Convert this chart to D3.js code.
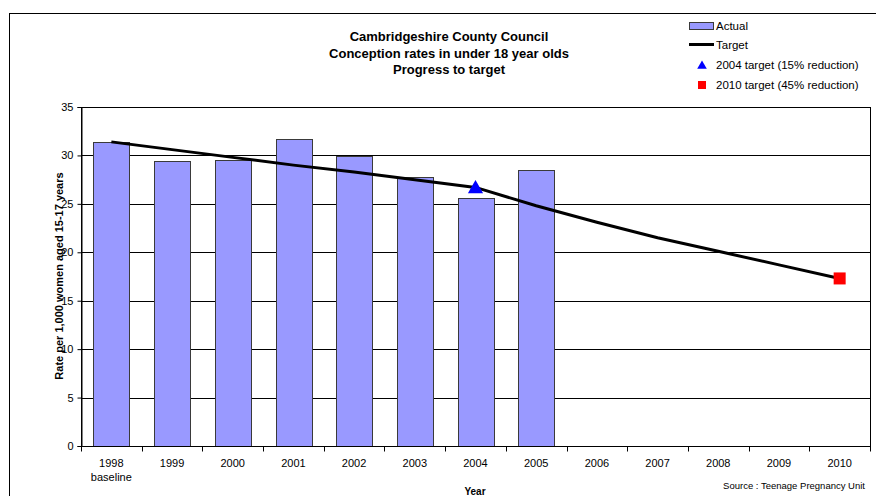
<!DOCTYPE html>
<html><head><meta charset="utf-8">
<script src="https://cdn.jsdelivr.net/npm/d3@7"></script>
<style>body{margin:0;background:#fff}svg{display:block;font-family:Arial,"Liberation Sans",sans-serif}</style>
</head><body><svg id="c" width="876" height="496"></svg>
<script>
const years = ["1998","1999","2000","2001","2002","2003","2004","2005","2006","2007","2008","2009","2010"];
const actual = [31.4, 29.4, 29.5, 31.7, 29.9, 27.8, 25.6, 28.5];
const target = [31.4, 30.6, 29.8, 29.0, 28.3, 27.5, 26.7, 24.8, 23.1, 21.5, 20.1, 18.7, 17.3];
const target2004 = {year: "2004", value: 26.7};
const target2010 = {year: "2010", value: 17.3};
const yTicks = [0, 5, 10, 15, 20, 25, 30, 35];
const titleLines = ["Cambridgeshire County Council", "Conception rates in under 18 year olds", "Progress to target"];

const svg = d3.select("#c");
const m = {l: 81, r: 870, t: 107, b: 446};
const x = d3.scaleBand().domain(years).range([m.l, m.r]).paddingInner(0.41).paddingOuter(0.205);
const xb = d3.scaleBand().domain(years).range([m.l, m.r]);
const y = d3.scaleLinear().domain([0, 35]).range([m.b, m.t]);

// outer border
svg.append("rect").attr("x", 9.5).attr("y", 13.5).attr("width", 880).attr("height", 500)
  .attr("fill", "none").attr("stroke", "#000").attr("stroke-width", 1);

// title
svg.append("g").selectAll("text").data(titleLines).join("text")
  .attr("x", 449).attr("y", (d, i) => 41 + i * 16.5).attr("text-anchor", "middle")
  .attr("font-weight", "bold").attr("font-size", 13).text(d => d);

// gridlines
svg.append("g").selectAll("line").data(yTicks.filter(d => d > 0 && d < 35)).join("line")
  .attr("x1", m.l).attr("x2", m.r).attr("y1", d => Math.round(y(d)) + 0.5).attr("y2", d => Math.round(y(d)) + 0.5)
  .attr("stroke", "#000").attr("stroke-width", 1);

// plot border
svg.append("rect").attr("x", m.l + 0.5).attr("y", m.t + 0.5).attr("width", m.r - m.l).attr("height", m.b - m.t)
  .attr("fill", "none").attr("stroke", "#000");

// bars
svg.append("g").selectAll("rect").data(actual).join("rect")
  .attr("x", (d, i) => Math.round(x(years[i])) + 0.5).attr("width", Math.round(x.bandwidth()))
  .attr("y", d => Math.round(y(d)) + 0.5).attr("height", d => m.b - Math.round(y(d)))
  .attr("fill", "#9999FF").attr("stroke", "#3a3a3a").attr("stroke-width", 1);

// y axis
const ya = svg.append("g").attr("transform", `translate(${m.l + 0.5},0)`)
  .call(d3.axisLeft(y).tickValues(yTicks).tickSize(4).tickPadding(4));
ya.select(".domain").attr("stroke", "#000");
ya.selectAll("text").attr("font-size", 11).attr("font-family", "Arial, 'Liberation Sans', sans-serif").attr("fill", "#000");
ya.selectAll(".tick line").attr("stroke", "#000");

// x axis ticks at band boundaries
const xa = svg.append("g").attr("transform", `translate(0,${m.b + 0.5})`);
xa.append("line").attr("x1", m.l).attr("x2", m.r + 1).attr("stroke", "#000");
xa.selectAll("line.t").data(years.concat(["end"])).join("line").attr("class", "t")
  .attr("x1", (d, i) => Math.round(m.l + i * xb.step()) + 0.5).attr("x2", (d, i) => Math.round(m.l + i * xb.step()) + 0.5)
  .attr("y1", 0).attr("y2", 5).attr("stroke", "#000");
xa.selectAll("text.l").data(years).join("text").attr("class", "l")
  .attr("x", d => xb(d) + xb.bandwidth() / 2).attr("y", 20).attr("text-anchor", "middle")
  .attr("font-size", 11).text(d => d);
xa.append("text").attr("x", xb("1998") + xb.bandwidth() / 2).attr("y", 34).attr("text-anchor", "middle")
  .attr("font-size", 11).text("baseline");

// axis titles
svg.append("text").attr("transform", `translate(62.5,276) rotate(-90)`).attr("text-anchor", "middle")
  .attr("font-size", 11).attr("font-weight", "bold").text("Rate per 1,000 women aged 15-17 years");
svg.append("text").attr("x", 475).attr("y", 495).attr("text-anchor", "middle")
  .attr("font-size", 10).attr("font-weight", "bold").text("Year");
svg.append("text").attr("x", 865).attr("y", 489).attr("text-anchor", "end")
  .attr("font-size", 9.5).text("Source :  Teenage Pregnancy Unit");

// target line
const line = d3.line().x((d, i) => xb(years[i]) + xb.bandwidth() / 2).y(d => y(d));
svg.append("path").datum(target).attr("d", line).attr("fill", "none").attr("stroke", "#000").attr("stroke-width", 3);

// markers
const cx = yr => xb(yr) + xb.bandwidth() / 2;
svg.append("path").attr("d", d3.symbol(d3.symbolTriangle, 100)())
  .attr("transform", `translate(${cx(target2004.year)},${y(target2004.value) + 1.5})`).attr("fill", "#0000FF");
svg.append("rect").attr("x", cx(target2010.year) - 6).attr("y", y(target2010.value) - 6)
  .attr("width", 12).attr("height", 12).attr("fill", "#FF0000");

// legend
const lg = svg.append("g");
lg.append("rect").attr("x", 689.5).attr("y", 22.5).attr("width", 24).attr("height", 7).attr("fill", "#9999FF").attr("stroke", "#3a3a3a");
lg.append("text").attr("x", 716).attr("y", 30).attr("font-size", 11.5).text("Actual");
lg.append("line").attr("x1", 689).attr("x2", 714).attr("y1", 44.5).attr("y2", 44.5).attr("stroke", "#000").attr("stroke-width", 3);
lg.append("text").attr("x", 716).attr("y", 49).attr("font-size", 11.5).text("Target");
lg.append("path").attr("d", d3.symbol(d3.symbolTriangle, 40)()).attr("transform", "translate(702,66)").attr("fill", "#0000FF");
lg.append("text").attr("x", 716).attr("y", 69).attr("font-size", 11.5).text("2004 target (15% reduction)");
lg.append("rect").attr("x", 698).attr("y", 81).attr("width", 8).attr("height", 8).attr("fill", "#FF0000");
lg.append("text").attr("x", 716).attr("y", 89).attr("font-size", 11.5).text("2010 target (45% reduction)");
</script></body></html>
